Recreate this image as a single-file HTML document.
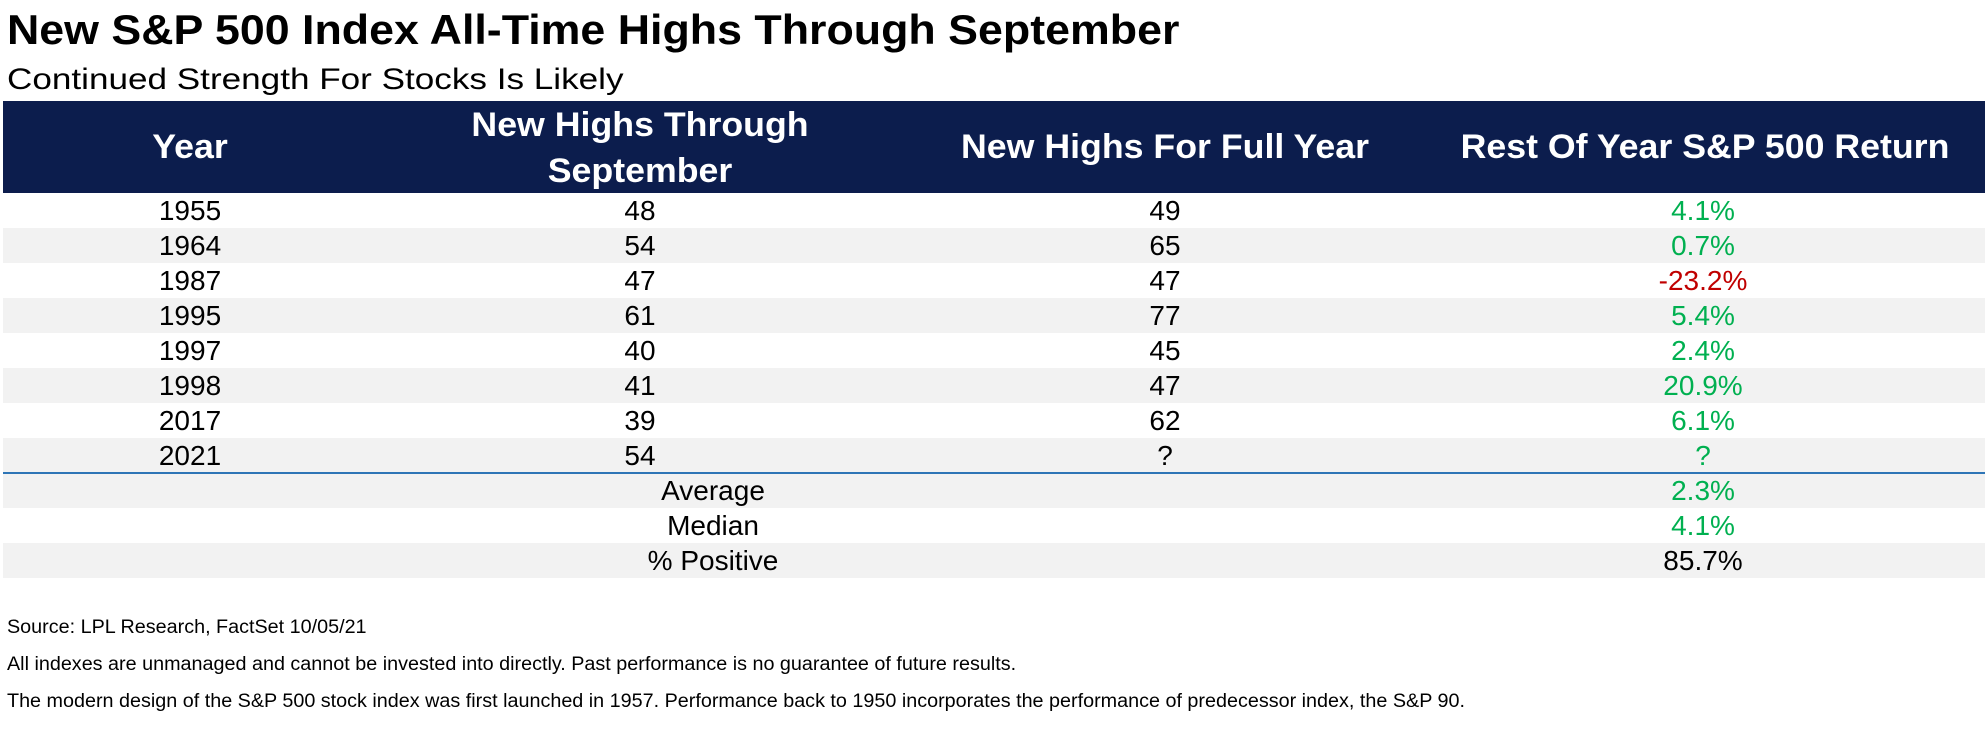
<!DOCTYPE html>
<html><head><meta charset="utf-8"><style>
body{margin:0;width:1985px;height:733px;background:#fff;font-family:"Liberation Sans",sans-serif;position:relative;overflow:hidden}
.abs{position:absolute;white-space:nowrap}
#title{left:7px;top:6px;font-size:42px;font-weight:bold;color:#000;transform-origin:0 0;transform:scaleX(1.065)}
#sub{left:7px;top:63px;font-size:30px;color:#000;transform-origin:0 0;transform:scaleX(1.17)}
#hdr{left:3px;top:101px;width:1982px;height:92px;background:#0c1d4d}
.h{position:absolute;color:#fff;font-weight:bold;font-size:34px;text-align:center;transform:translateX(-50%) scaleX(1.05);line-height:46px}
.row{position:absolute;left:3px;width:1982px;height:35px}
.c{position:absolute;font-size:28px;line-height:35px;transform:translateX(-50%);white-space:nowrap}
.g{color:#00b050}.r{color:#c00000}
.foot{position:absolute;left:7px;font-size:19px;color:#000;white-space:nowrap;transform-origin:0 0;transform:scaleX(1.04)}
</style></head><body>
<div id="title" class="abs">New S&amp;P 500 Index All-Time Highs Through September</div>
<div id="sub" class="abs">Continued Strength For Stocks Is Likely</div>
<div id="hdr" class="abs">
<div class="h" style="left:187px;top:23px">Year</div>
<div class="h" style="left:637px;top:1px">New Highs Through<br>September</div>
<div class="h" style="left:1162px;top:23px">New Highs For Full Year</div>
<div class="h" style="left:1702px;top:23px">Rest Of Year S&amp;P 500 Return</div>
</div>
<div id="rows"></div>
<div class="abs" style="left:3px;top:472px;width:1982px;height:2px;background:#2e75b6"></div>
<div class="foot" style="top:617px">Source: LPL Research, FactSet 10/05/21</div>
<div class="foot" style="top:654px">All indexes are unmanaged and cannot be invested into directly. Past performance is no guarantee of future results.</div>
<div class="foot" style="top:691px">The modern design of the S&amp;P 500 stock index was first launched in 1957. Performance back to 1950 incorporates the performance of predecessor index, the S&amp;P 90.</div>
<script>
const years=["1955","1964","1987","1995","1997","1998","2017","2021"];
const highsSep=["48","54","47","61","40","41","39","54"];
const highsFull=["49","65","47","77","45","47","62","?"];
const returns=["4.1%","0.7%","-23.2%","5.4%","2.4%","20.9%","6.1%","?"];
const summaryLabels=["Average","Median","% Positive"];
const summaryValues=["2.3%","4.1%","85.7%"];
const rows=document.getElementById('rows');
function cell(row,x,text,cls,name){
  const d=document.createElement('div');
  d.className='c '+(cls||'');
  d.style.left=x+'px';
  d.textContent=text;
  
  
  row.appendChild(d);
}
function mkRow(i,gray){
  const r=document.createElement('div');
  r.className='row';
  r.style.top=(193+i*35)+'px';
  r.style.background=gray?'#f2f2f2':'#fff';
  
  
  rows.appendChild(r);
  return r;
}
years.forEach((y,i)=>{
  const r=mkRow(i,i%2===1);
  cell(r,187,y,'','year-cell');
  cell(r,637,highsSep[i],'','highs-september-cell');
  cell(r,1162,highsFull[i],'','highs-full-year-cell');
  const v=returns[i];
  cell(r,1700,v,v.startsWith('-')?'r':'g','return-cell');
});
summaryLabels.forEach((l,j)=>{
  const r=mkRow(years.length+j,j%2===0);
  cell(r,710,l,'','summary-label');
  const v=summaryValues[j];
  cell(r,1700,v,l==='% Positive'?'':(v.startsWith('-')?'r':'g'),'summary-value');
});
</script>
</body></html>
